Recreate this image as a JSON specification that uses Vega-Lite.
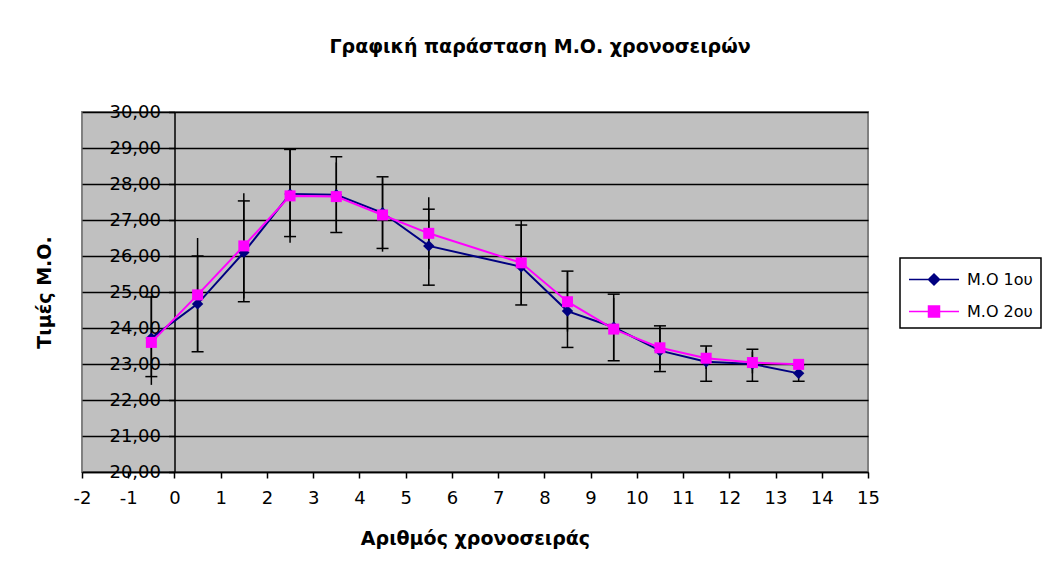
{
  "$schema": "https://vega.github.io/schema/vega-lite/v6.json",
  "autosize": {"type": "none"},
  "padding": {"left": 82, "top": 112, "right": 176, "bottom": 102},
  "width": 786,
  "height": 360,
  "background": "white",
  "title": {
    "text": "Γραφική παράσταση Μ.Ο. χρονοσειρών",
    "anchor": "middle",
    "frame": "group",
    "offset": 46,
    "dx": 65,
    "font": "DejaVu Sans",
    "fontSize": 19,
    "fontWeight": "bold",
    "color": "black"
  },
  "data": {
    "values": [
      {"x": -0.5, "serie": "Μ.Ο 1ου", "mo": 23.72, "lo": 22.65, "hi": 24.86},
      {"x": 0.5, "serie": "Μ.Ο 1ου", "mo": 24.67, "lo": 23.34, "hi": 26.0},
      {"x": 1.5, "serie": "Μ.Ο 1ου", "mo": 26.1, "lo": 24.73, "hi": 27.53},
      {"x": 2.5, "serie": "Μ.Ο 1ου", "mo": 27.72, "lo": 26.54, "hi": 28.96},
      {"x": 3.5, "serie": "Μ.Ο 1ου", "mo": 27.7, "lo": 26.65, "hi": 28.76},
      {"x": 4.5, "serie": "Μ.Ο 1ου", "mo": 27.2, "lo": 26.21, "hi": 28.2},
      {"x": 5.5, "serie": "Μ.Ο 1ου", "mo": 26.28, "lo": 25.19, "hi": 27.3},
      {"x": 7.5, "serie": "Μ.Ο 1ου", "mo": 25.7, "lo": 24.64, "hi": 26.86},
      {"x": 8.5, "serie": "Μ.Ο 1ου", "mo": 24.47, "lo": 23.46, "hi": 25.58},
      {"x": 9.5, "serie": "Μ.Ο 1ου", "mo": 24.02, "lo": 23.09, "hi": 24.94},
      {"x": 10.5, "serie": "Μ.Ο 1ου", "mo": 23.37, "lo": 22.79, "hi": 24.06},
      {"x": 11.5, "serie": "Μ.Ο 1ου", "mo": 23.06, "lo": 22.52, "hi": 23.5},
      {"x": 12.5, "serie": "Μ.Ο 1ου", "mo": 23.0, "lo": 22.52, "hi": 23.41},
      {"x": 13.5, "serie": "Μ.Ο 1ου", "mo": 22.74, "lo": 22.52, "hi": 22.98},
      {"x": -0.5, "serie": "Μ.Ο 2ου", "mo": 23.6, "lo": 22.42, "hi": 24.9},
      {"x": 0.5, "serie": "Μ.Ο 2ου", "mo": 24.92, "lo": 23.34, "hi": 26.5},
      {"x": 1.5, "serie": "Μ.Ο 2ου", "mo": 26.28, "lo": 24.82, "hi": 27.74},
      {"x": 2.5, "serie": "Μ.Ο 2ου", "mo": 27.67, "lo": 26.37, "hi": 28.97},
      {"x": 3.5, "serie": "Μ.Ο 2ου", "mo": 27.65, "lo": 26.7, "hi": 28.6},
      {"x": 4.5, "serie": "Μ.Ο 2ου", "mo": 27.14, "lo": 26.12, "hi": 28.16},
      {"x": 5.5, "serie": "Μ.Ο 2ου", "mo": 26.63, "lo": 25.63, "hi": 27.63},
      {"x": 7.5, "serie": "Μ.Ο 2ου", "mo": 25.81, "lo": 24.64, "hi": 26.98},
      {"x": 8.5, "serie": "Μ.Ο 2ου", "mo": 24.73, "lo": 23.9, "hi": 25.56},
      {"x": 9.5, "serie": "Μ.Ο 2ου", "mo": 23.97, "lo": 23.1, "hi": 24.84},
      {"x": 10.5, "serie": "Μ.Ο 2ου", "mo": 23.45, "lo": 22.85, "hi": 24.05},
      {"x": 11.5, "serie": "Μ.Ο 2ου", "mo": 23.16, "lo": 22.86, "hi": 23.46},
      {"x": 12.5, "serie": "Μ.Ο 2ου", "mo": 23.04, "lo": 22.74, "hi": 23.34},
      {"x": 13.5, "serie": "Μ.Ο 2ου", "mo": 22.99, "lo": 22.94, "hi": 23.04}
    ]
  },
  "encoding": {
    "x": {
      "field": "x",
      "type": "quantitative",
      "scale": {"domain": [-2, 15], "nice": false, "zero": false},
      "axis": {
        "title": "Αριθμός χρονοσειράς",
        "values": [-2, -1, 0, 1, 2, 3, 4, 5, 6, 7, 8, 9, 10, 11, 12, 13, 14, 15],
        "tickCount": 20,
        "labelExpr": "datum.value < 0 ? '-' + abs(datum.value) : '' + datum.value",
        "grid": false,
        "domainColor": "black",
        "domainWidth": 1.5,
        "tickColor": "black",
        "tickWidth": 1.5,
        "tickSize": 6,
        "labelPadding": 11,
        "labelFont": "DejaVu Sans",
        "labelFontSize": 18,
        "labelColor": "black",
        "labelFlush": false,
        "labelOverlap": false,
        "titleFont": "DejaVu Sans",
        "titleFontSize": 19,
        "titleFontWeight": "bold",
        "titleColor": "black",
        "titlePadding": 22
      }
    },
    "y": {
      "field": "mo",
      "type": "quantitative",
      "scale": {"domain": [20, 30], "nice": false, "zero": false},
      "axis": {
        "title": "Τιμές Μ.Ο.",
        "values": [20, 21, 22, 23, 24, 25, 26, 27, 28, 29, 30],
        "tickCount": 12,
        "labelExpr": "replace(format(datum.value, '.2f'), '.', ',')",
        "labelOverlap": false,
        "offset": -92.5,
        "titleX": -130,
        "titleY": 180,
        "titleAngle": 270,
        "titleAlign": "center",
        "titleBaseline": "middle"
      }
    }
  },
  "layer": [
    {
      "mark": {"type": "rule", "color": "black", "strokeWidth": 1.5},
      "encoding": {
        "y": {"field": "lo", "type": "quantitative"},
        "y2": {"field": "hi"}
      }
    },
    {
      "transform": [{"filter": "datum.serie === 'Μ.Ο 1ου'"}],
      "mark": {"type": "tick", "orient": "horizontal", "size": 12, "thickness": 1.5, "color": "black", "opacity": 1},
      "encoding": {"y": {"field": "lo", "type": "quantitative"}}
    },
    {
      "transform": [{"filter": "datum.serie === 'Μ.Ο 1ου'"}],
      "mark": {"type": "tick", "orient": "horizontal", "size": 12, "thickness": 1.5, "color": "black", "opacity": 1},
      "encoding": {"y": {"field": "hi", "type": "quantitative"}}
    },
    {
      "transform": [{"filter": "datum.serie === 'Μ.Ο 1ου'"}],
      "mark": {"type": "line", "color": "#000080", "strokeWidth": 2}
    },
    {
      "transform": [{"filter": "datum.serie === 'Μ.Ο 1ου'"}],
      "mark": {"type": "point", "shape": "diamond", "filled": true, "color": "#000080", "size": 130, "opacity": 1}
    },
    {
      "transform": [{"filter": "datum.serie === 'Μ.Ο 2ου'"}],
      "mark": {"type": "line", "color": "#FF00FF", "strokeWidth": 2}
    },
    {
      "transform": [{"filter": "datum.serie === 'Μ.Ο 2ου'"}],
      "mark": {"type": "point", "shape": "square", "filled": true, "color": "#FF00FF", "size": 121, "opacity": 1}
    },
    {
      "transform": [{"filter": "false"}],
      "mark": {"type": "point", "filled": true, "strokeWidth": 1.5, "opacity": 1},
      "encoding": {
        "color": {
          "field": "serie",
          "type": "nominal",
          "scale": {"domain": ["Μ.Ο 1ου", "Μ.Ο 2ου"], "range": ["#000080", "#FF00FF"]},
          "legend": {"title": null}
        },
        "stroke": {
          "field": "serie",
          "type": "nominal",
          "scale": {"domain": ["Μ.Ο 1ου", "Μ.Ο 2ου"], "range": ["#000080", "#FF00FF"]},
          "legend": {"title": null}
        },
        "shape": {
          "field": "serie",
          "type": "nominal",
          "scale": {
            "domain": ["Μ.Ο 1ου", "Μ.Ο 2ου"],
            "range": [
              "M-1,0L3,0M1,-0.44L1.44,0L1,0.44L0.56,0Z",
              "M-1,0L3,0M0.56,-0.44L1.44,-0.44L1.44,0.44L0.56,0.44Z"
            ]
          },
          "legend": {"title": null}
        }
      }
    }
  ],
  "config": {
    "view": {"fill": "#C0C0C0", "stroke": "#808080", "strokeWidth": 2},
    "axisY": {
      "grid": true,
      "gridColor": "black",
      "gridWidth": 1.5,
      "gridOpacity": 1,
      "domainColor": "black",
      "domainWidth": 1.5,
      "tickColor": "black",
      "tickWidth": 1.5,
      "tickSize": 6,
      "labelPadding": 8,
      "labelFont": "DejaVu Sans",
      "labelFontSize": 18,
      "labelColor": "black",
      "labelFlush": false,
      "titleFont": "DejaVu Sans",
      "titleFontSize": 19,
      "titleFontWeight": "bold",
      "titleColor": "black"
    },
    "legend": {
      "orient": "none",
      "legendX": 818,
      "legendY": 146,
      "fillColor": "white",
      "strokeColor": "black",
      "strokeWidth": 1.5,
      "padding": 8,
      "symbolSize": 625,
      "symbolStrokeWidth": 1.5,
      "symbolOpacity": 1,
      "labelFont": "DejaVu Sans",
      "labelFontSize": 16,
      "labelColor": "black",
      "labelOffset": 32,
      "rowPadding": 10
    }
  }
}
